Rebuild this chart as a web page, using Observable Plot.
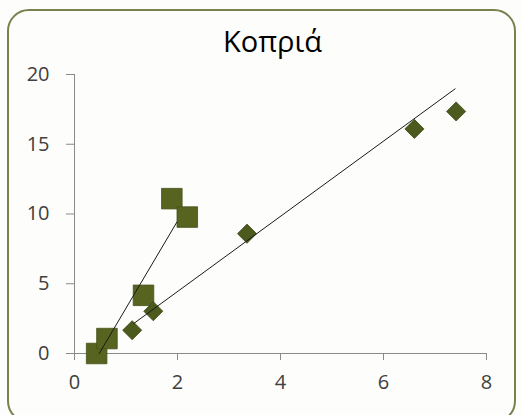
<!DOCTYPE html>
<html>
<head>
<meta charset="utf-8">
<script src="https://cdn.jsdelivr.net/npm/d3@7"></script>
<script src="https://cdn.jsdelivr.net/npm/@observablehq/plot@0.6"></script>
<style>
  html, body { margin: 0; padding: 0; background: #ffffff; }
  #wrap { position: relative; width: 522px; height: 415px; overflow: hidden; background: #fdfdfb; }
  #border { position: absolute; left: 7px; top: 9px; width: 505px; height: 410px; border: 2.5px solid #78824f; border-radius: 22px; pointer-events: none; }
</style>
</head>
<body>
<div id="wrap"><div id="border"></div></div>
<script>
const titleText = "Κοπριά";
const xTicks = [0, 2, 4, 6, 8];
const yTicks = [0, 5, 10, 15, 20];

// Series 1 (squares)
const squaresX = [0.43, 0.63, 1.34, 1.89, 2.19];
const squaresY = [0.0, 1.07, 4.17, 11.1, 9.78];
// Series 2 (diamonds)
const diamondsX = [1.12, 1.53, 3.35, 6.60, 7.41];
const diamondsY = [1.67, 3.03, 8.59, 16.1, 17.35];
// Trendlines (endpoints)
const trendSquaresX = [0.48, 1.99];
const trendSquaresY = [0.0, 9.43];
const trendDiamondsX = [1.15, 7.39];
const trendDiamondsY = [2.15, 18.97];

const squares = squaresX.map((x, i) => ({x, y: squaresY[i]}));
const diamonds = diamondsX.map((x, i) => ({x, y: diamondsY[i]}));
const trendA = trendSquaresX.map((x, i) => ({x, y: trendSquaresY[i]}));
const trendB = trendDiamondsX.map((x, i) => ({x, y: trendDiamondsY[i]}));

const font = "'Open Sans', 'DejaVu Sans', sans-serif";

const chart = Plot.plot({
  width: 522,
  height: 415,
  marginLeft: 74,
  marginRight: 36,
  marginTop: 74,
  marginBottom: 62,
  style: {background: "transparent", fontFamily: font, overflow: "visible"},
  x: {domain: [0, 8]},
  y: {domain: [0, 20]},
  marks: [
    Plot.ruleY([0], {x1: 0, x2: 8, stroke: "#8a8a8a", strokeWidth: 1}),
    Plot.ruleX([0], {y1: 0, y2: 20, stroke: "#8a8a8a", strokeWidth: 1}),
    Plot.axisX({ticks: xTicks, tickSize: 7, tickPadding: 14, stroke: "#8a8a8a", fill: "#404040", fontSize: 20, label: null, tickFormat: d => String(d)}),
    Plot.axisY({ticks: yTicks, tickSize: 8, tickPadding: 17, stroke: "#8a8a8a", fill: "#404040", fontSize: 20, label: null, tickFormat: d => String(d)}),
    Plot.dot(squares, {x: "x", y: "y", symbol: "square", r: 11.6, fill: "#56641f", stroke: "#45501a", strokeWidth: 0.8}),
    Plot.dot(diamonds, {x: "x", y: "y", symbol: "diamond2", r: 8.6, fill: "#4c5a1d", stroke: "#3c4816", strokeWidth: 0.8}),
    Plot.line(trendA, {x: "x", y: "y", stroke: "#1a1a1a", strokeWidth: 1}),
    Plot.line(trendB, {x: "x", y: "y", stroke: "#1a1a1a", strokeWidth: 1}),
    Plot.text([titleText], {frameAnchor: "top", dx: -8, dy: -32, lineAnchor: "middle", fontSize: 29, fill: "#000000", fontFamily: font})
  ]
});
document.getElementById("wrap").prepend(chart);
chart.style.position = "absolute";
chart.style.left = "0";
chart.style.top = "0";
</script>
</body>
</html>
